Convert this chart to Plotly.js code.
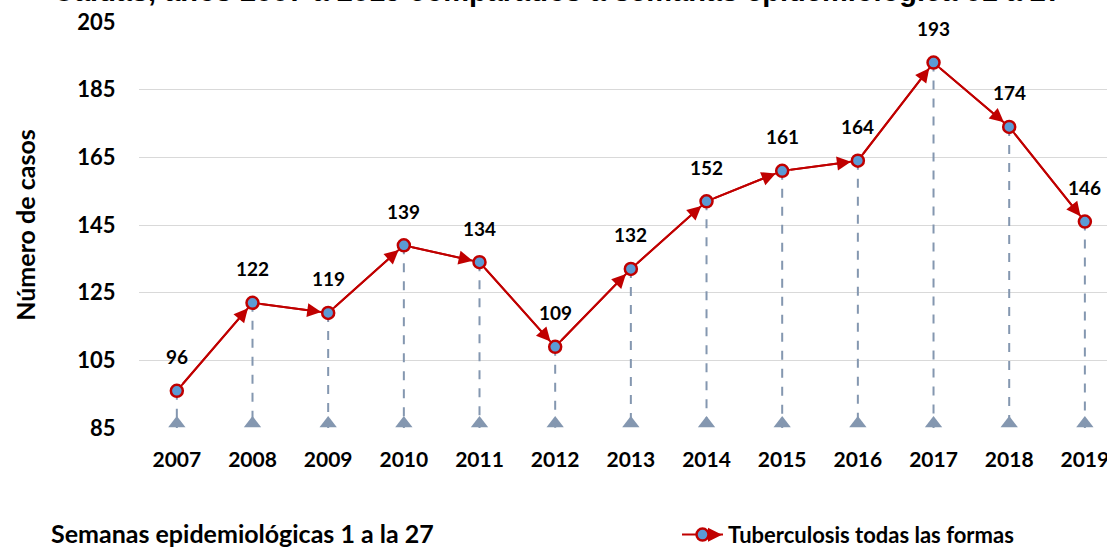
<!DOCTYPE html>
<html>
<head>
<meta charset="utf-8">
<script src="https://cdn.plot.ly/plotly-3.0.1.min.js"></script>
<style>
  html, body { margin: 0; padding: 0; background: #ffffff; overflow: hidden; }
  #chart { width: 1107px; height: 548px; }
</style>
</head>
<body>
<div id="chart"></div>
<script>
// ---- data ----
const years = [2007, 2008, 2009, 2010, 2011, 2012, 2013, 2014, 2015, 2016, 2017, 2018, 2019];
const cases = [96, 122, 119, 139, 134, 109, 132, 152, 161, 164, 193, 174, 146];
const yTicks = [85, 105, 125, 145, 165, 185, 205];
const seriesName = 'Tuberculosis todas las formas';
const titleText = 'Caldas, años 2007 a 2019 comparados a semanas epidemiológica 01 a 27';
const yTitle = 'Número de casos';
const footnote = 'Semanas epidemiológicas 1 a la 27';

const yMin = yTicks[0], yMax = yTicks[yTicks.length - 1];
const FONT = 'Lato, "Open Sans", sans-serif';
const RED = '#c00000';
const DROP = '#8497b0';

// drop lines from each point to the base
const dropX = [], dropY = [];
years.forEach((yr, i) => { dropX.push(yr, yr, null); dropY.push(cases[i], yMin, null); });

const traces = [
  {
    x: dropX, y: dropY, mode: 'lines', type: 'scatter', showlegend: false, hoverinfo: 'skip',
    line: { color: DROP, width: 2, dash: 'dash' }
  },
  {
    x: years, y: years.map(() => yMin + (yMax - yMin) * 0.011), mode: 'markers', type: 'scatter',
    showlegend: false, hoverinfo: 'skip', cliponaxis: false,
    marker: { symbol: 'triangle-up', size: 15, color: DROP }
  },
  {
    x: years, y: cases, mode: 'lines+markers', type: 'scatter', name: seriesName,
    cliponaxis: false,
    line: { color: RED, width: 2 },
    marker: { symbol: 'circle', size: 12, color: '#5b9bd5', line: { color: RED, width: 2.5 } }
  }
];

const annotations = [];
// arrowheads pointing into each point
for (let i = 1; i < years.length; i++) {
  annotations.push({
    x: years[i], y: cases[i], ax: years[i - 1], ay: cases[i - 1],
    xref: 'x', yref: 'y', axref: 'x', ayref: 'y',
    showarrow: true, arrowhead: 2, arrowsize: 1.4, arrowwidth: 2, arrowcolor: RED,
    standoff: 7, startstandoff: 7, text: ''
  });
}
// data labels
years.forEach((yr, i) => {
  annotations.push({
    x: yr, y: cases[i], xref: 'x', yref: 'y', text: String(cases[i]),
    showarrow: false, yshift: 34,
    font: { family: FONT, size: 19, color: '#000000', weight: 'bold' }
  });
});
// title (partly cut off at the top, as in the reference)
annotations.push({
  xref: 'paper', yref: 'paper', x: 0.432, y: 1, yshift: 31, xanchor: 'center', yanchor: 'middle',
  text: '<b>' + titleText + '</b>', showarrow: false,
  font: { family: '"Liberation Sans", Arial, sans-serif', size: 29, color: '#000000' }
});
// footnote
annotations.push({
  xref: 'paper', yref: 'paper', x: -0.093, y: -0.258, xanchor: 'left', yanchor: 'middle',
  text: '<b>' + footnote + '</b>', showarrow: false,
  font: { family: FONT, size: 25, color: '#000000' }
});
// legend arrowhead
annotations.push({
  xref: 'paper', yref: 'paper', x: 0.6023, y: -0.263, ax: -14, ay: 0,
  showarrow: true, arrowhead: 2, arrowsize: 1.4, arrowwidth: 2, arrowcolor: RED, text: ''
});

const layout = {
  width: 1107, height: 548,
  margin: { l: 139, r: 0, t: 22, b: 120, pad: 0, autoexpand: false },
  paper_bgcolor: '#ffffff', plot_bgcolor: '#ffffff',
  xaxis: {
    range: [years[0] - 0.5, years[0] - 0.5 + (1107 - 139) / 75.67],
    tickvals: years, ticktext: years.map(String),
    showgrid: false, zeroline: false, showline: false,
    ticks: 'outside', ticklen: 13, tickcolor: 'rgba(0,0,0,0)',
    ticklabeloverflow: 'allow',
    tickfont: { family: FONT, size: 21, color: '#000000', weight: 'bold' }
  },
  yaxis: {
    range: [yMin, yMax], tickvals: yTicks,
    showgrid: true, gridcolor: '#d9d9d9', gridwidth: 1,
    zeroline: false, showline: false,
    ticks: 'outside', ticklen: 18, tickcolor: 'rgba(0,0,0,0)',
    tickfont: { family: FONT, size: 22, color: '#000000', weight: 'bold' },
    title: { text: '<b>' + yTitle + '</b>', standoff: 34, font: { family: FONT, size: 25, color: '#000000' } }
  },
  showlegend: true,
  legend: {
    x: 0.5558, y: -0.263, xanchor: 'left', yanchor: 'middle', orientation: 'h',
    itemwidth: 41,
    bgcolor: 'rgba(0,0,0,0)',
    font: { family: FONT, size: 22, color: '#000000', weight: 'bold' }
  },
  annotations: annotations
};

Plotly.newPlot('chart', traces, layout, { displayModeBar: false, staticPlot: true });
</script>
</body>
</html>
